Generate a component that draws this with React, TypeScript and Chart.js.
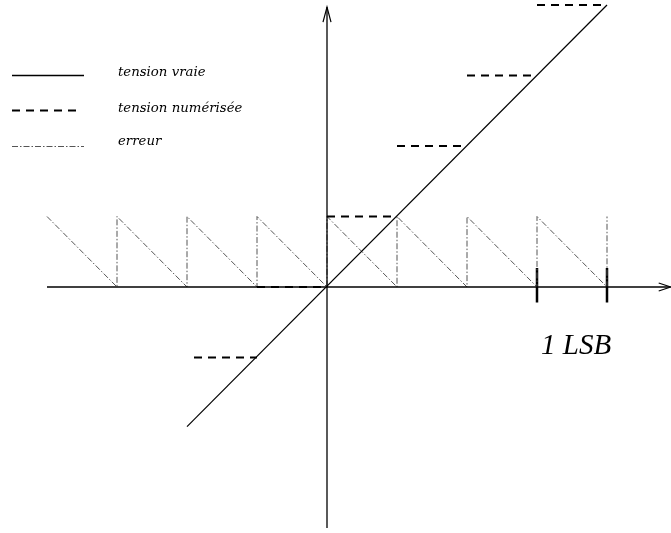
import React, { useEffect, useRef } from "react";
import { Chart, registerables } from "chart.js";

Chart.register(...registerables);

// True voltage (tension vraie)
const trueX = [-2, 4];
const trueY = [-1.98, 4.0];

// Quantized voltage (tension numérisée): step segments [xStart, xEnd, level]
const stepStart = [-1.9, -1, 0, 1, 2, 3];
const stepEnd = [-1, 0, 1, 2, 3, 4];
const stepLevel = [-1, 0, 1, 2, 3, 4];

// Error (erreur) sawtooth
const errX = [-4, -3, -3, -2, -2, -1, -1, 0, 0, 1, 1, 2, 2, 3, 3, 4, 4];
const errY = [1, 0, 1, 0, 1, 0, 1, 0, 1, 0, 1, 0, 1, 0, 1, 0, 1];

// Axes extents
const xAxisRange = [-4, 4.91];
const yAxisRange = [-3.42, 3.97];

// LSB tick marks
const lsbTicks = [3, 4];
const lsbTickSpan = [-0.22, 0.27];

const legendLabels = ["tension vraie", "tension numérisée", "erreur"];
const lsbLabel = "1 LSB";

export default function App() {
  const ref = useRef<HTMLCanvasElement | null>(null);

  useEffect(() => {
    if (!ref.current) return;
    const pts = (xs: number[], ys: number[]) => xs.map((x, i) => ({ x, y: ys[i] }));

    const stepData: any[] = [];
    stepStart.forEach((s, i) => {
      if (i > 0) stepData.push({ x: s, y: null });
      stepData.push({ x: s, y: stepLevel[i] });
      stepData.push({ x: stepEnd[i], y: stepLevel[i] });
    });

    const tickData: any[] = [];
    lsbTicks.forEach((t, i) => {
      if (i > 0) tickData.push({ x: t, y: null });
      tickData.push({ x: t, y: lsbTickSpan[0] });
      tickData.push({ x: t, y: lsbTickSpan[1] });
    });

    const base = { pointRadius: 0, tension: 0, fill: false, spanGaps: false };

    const decorPlugin = {
      id: "decor",
      afterDatasetsDraw(chart: any) {
        const ctx = chart.ctx;
        const xs = chart.scales.x;
        const ys = chart.scales.y;
        ctx.save();
        ctx.strokeStyle = "#000";
        ctx.lineWidth = 1.2;
        // top arrow
        const tx = xs.getPixelForValue(0);
        const ty = ys.getPixelForValue(yAxisRange[1]);
        ctx.beginPath();
        ctx.moveTo(tx - 4, ty + 15);
        ctx.lineTo(tx, ty);
        ctx.lineTo(tx + 4, ty + 15);
        ctx.stroke();
        // right arrow
        const rx = xs.getPixelForValue(xAxisRange[1]);
        const ry = ys.getPixelForValue(0);
        ctx.beginPath();
        ctx.moveTo(rx - 12, ry - 4);
        ctx.lineTo(rx, ry);
        ctx.lineTo(rx - 12, ry + 4);
        ctx.stroke();

        // legend
        const ds = chart.data.datasets;
        const rows = [
          { y: 75.5, ds: ds[2], x1: 12, x2: 84, ty: 76, w: 1.4 },
          { y: 110.5, ds: ds[3], x1: 12, x2: 77, ty: 112, w: 2 },
          { y: 146.5, ds: ds[4], x1: 12, x2: 84, ty: 145, w: 1 },
        ];
        rows.forEach((r, i) => {
          ctx.save();
          ctx.strokeStyle = r.ds.borderColor;
          ctx.lineWidth = r.w;
          ctx.setLineDash(r.ds.borderDash || []);
          ctx.beginPath();
          ctx.moveTo(r.x1, r.y);
          ctx.lineTo(r.x2, r.y);
          ctx.stroke();
          ctx.restore();
          ctx.fillStyle = "#000";
          ctx.font = 'italic 13.3px "DejaVu Serif", "Liberation Serif", serif';
          ctx.textBaseline = "alphabetic";
          ctx.fillText(legendLabels[i], 118, r.ty);
        });

        // 1 LSB label
        ctx.fillStyle = "#000";
        ctx.font = 'italic 29px "Liberation Serif", "DejaVu Serif", serif';
        ctx.fillText(lsbLabel, 541, 354);
        ctx.restore();
      },
    };

    const chart = new Chart(ref.current, {
      type: "line",
      data: {
        datasets: [
          {
            ...base,
            label: "xaxis",
            data: pts(xAxisRange, [0, 0]),
            borderColor: "#000",
            borderWidth: 1.3,
          },
          {
            ...base,
            label: "yaxis",
            data: [
              { x: 0, y: yAxisRange[0] },
              { x: 0, y: yAxisRange[1] },
            ],
            borderColor: "#000",
            borderWidth: 1.3,
          },
          {
            ...base,
            label: legendLabels[0],
            data: pts(trueX, trueY),
            borderColor: "#000",
            borderWidth: 1.2,
          },
          {
            ...base,
            label: legendLabels[1],
            data: stepData,
            borderColor: "#000",
            borderWidth: 2,
            borderDash: [8, 6],
          },
          {
            ...base,
            label: legendLabels[2],
            data: pts(errX, errY),
            borderColor: "#555",
            borderWidth: 1,
            borderDash: [6, 2, 1.5, 2],
          },
          {
            ...base,
            label: "lsb",
            data: tickData,
            borderColor: "#000",
            borderWidth: 2.5,
          },
        ],
      },
      options: {
        animation: false,
        responsive: false,
        maintainAspectRatio: false,
        layout: { padding: 0 },
        plugins: { legend: { display: false }, tooltip: { enabled: false } },
        scales: {
          x: { type: "linear", min: -327 / 70, max: 344 / 70, display: false },
          y: { type: "linear", min: -246 / 70.5, max: 287 / 70.5, display: false },
        },
      },
      plugins: [decorPlugin],
    });
    return () => chart.destroy();
  }, []);

  return (
    <canvas
      ref={ref}
      width={671}
      height={533}
      style={{ position: "absolute", left: 0, top: 0, width: 671, height: 533, background: "#fff" }}
    />
  );
}
